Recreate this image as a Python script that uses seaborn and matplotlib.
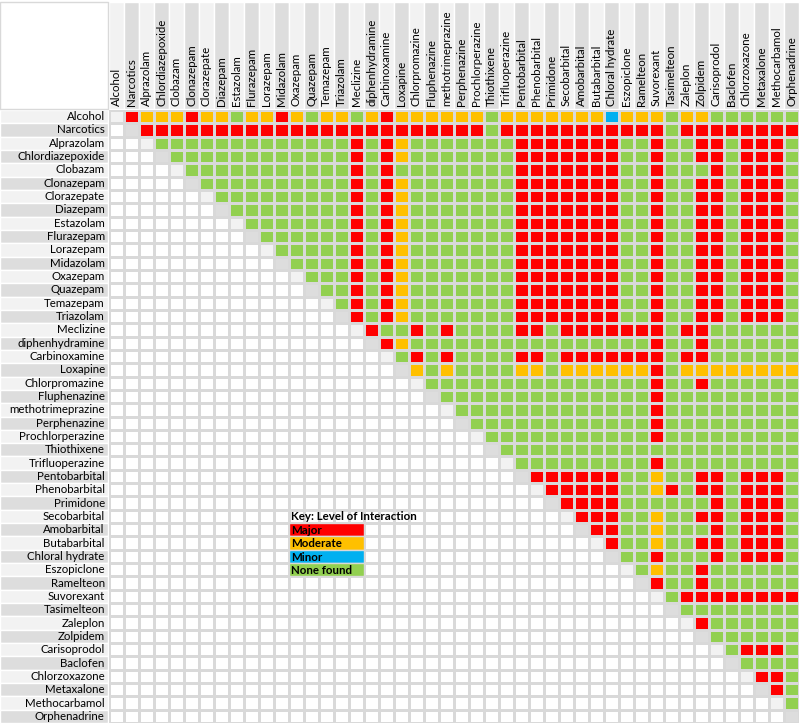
import matplotlib
matplotlib.use("Agg")
import matplotlib.pyplot as plt
from matplotlib.colors import ListedColormap
from matplotlib.patches import Rectangle
import numpy as np
import seaborn as sns

drugs = ["Alcohol", "Narcotics", "Alprazolam", "Chlordiazepoxide", "Clobazam",
         "Clonazepam", "Clorazepate", "Diazepam", "Estazolam", "Flurazepam",
         "Lorazepam", "Midazolam", "Oxazepam", "Quazepam", "Temazepam", "Triazolam",
         "Meclizine", "diphenhydramine", "Carbinoxamine", "Loxapine", "Chlorpromazine",
         "Fluphenazine", "methotrimeprazine", "Perphenazine", "Prochlorperazine",
         "Thiothixene", "Trifluoperazine", "Pentobarbital", "Phenobarbital", "Primidone",
         "Secobarbital", "Amobarbital", "Butabarbital", "Chloral hydrate", "Eszopiclone",
         "Ramelteon", "Suvorexant", "Tasimelteon", "Zaleplon", "Zolpidem", "Carisoprodol",
         "Baclofen", "Chlorzoxazone", "Metaxalone", "Methocarbamol", "Orphenadrine"]

# interaction level for each pair above the diagonal, one string per row
# (columns i+1 .. end): 3 = major, 2 = moderate, 1 = minor, 0 = none found
upper = [
    "322232202232022023222222022222221222022000000",
    "33333333333333333333333033333333333033333333",
    "0000000000000303200000003333333003003303330",
    "000000000000303200000003333333003003303330",
    "00000000000303000000003333333003000303330",
    "0000000000303200000003333333003003303330",
    "000000000303200000003333333003003303330",
    "00000000303200000003333333003003303330",
    "0000000303200000003333333003003303330",
    "000000303200000003333333003003303330",
    "00000303200000003333333003003303330",
    "0000303200000003333333003003303330",
    "000303200000003333333003003303330",
    "00303200000003333333003003303330",
    "0303200000003333333003003303330",
    "303200000003333333003003303330",
    "30030300003303333333033000000",
    "3200000000000000003003000000",
    "030300003303333333033000000",
    "20200002202222223022222222",
    "0000000000000003003000000",
    "000000000000003000000000",
    "00000000000003000000000",
    "0000000000003000000000",
    "000000000003000000000",
    "00000000000000000000",
    "0000000003000000000",
    "333333002003303330",
    "33333002303303330",
    "3333000000303330",
    "333002003303330",
    "33002000303330",
    "3002003303330",
    "003000303330",
    "02003000000",
    "3003000000",
    "033333333",
    "00000000",
    "3000000",
    "000000",
    "03330",
    "0000",
    "330",
    "30",
    "0",
    "",
]

level_colors = ["#92D050", "#00B0F0", "#FFC000", "#FF0000"]
key_labels = ["Major", "Moderate", "Minor", "None found"]
key_levels = [3, 2, 1, 0]

WHITE, DIAG_LIGHT, DIAG_DARK = 4, 5, 6
n = len(drugs)
grid = np.full((n, n), WHITE)
for i, row in enumerate(upper):
    grid[i, i] = DIAG_LIGHT if i % 2 == 0 else DIAG_DARK
    for k, ch in enumerate(row):
        grid[i, i + 1 + k] = int(ch)

cmap = ListedColormap(level_colors + ["#FFFFFF", "#F2F2F2", "#DDDDDD"])

plt.rcParams["font.family"] = ["Lato", "DejaVu Sans"]
fig = plt.figure(figsize=(8, 7.24), dpi=100)
ax = fig.add_axes([109 / 800, 1 / 724, 690 / 800, 613 / 724])
sns.heatmap(grid, cmap=cmap, vmin=-0.5, vmax=6.5, cbar=False,
            linewidths=1, linecolor="#D9D9D9", ax=ax)

# column headers on top
ax.xaxis.tick_top()
ax.set_xticks(np.arange(n) + 0.5)
ax.set_xticklabels(drugs, rotation=90, fontsize=8.3, va="bottom", ha="center")
ax.set_yticks(np.arange(n) + 0.5)
ax.set_yticklabels(drugs, rotation=0, fontsize=8.3, ha="right", va="center")
ax.tick_params(length=0, pad=3)

# header / label background bands
head_h = 108 / (613 / n)
lab_w = 109 / 15
for j in range(n):
    shade = "#F2F2F2" if j % 2 == 0 else "#DDDDDD"
    ax.add_patch(Rectangle((j, -head_h), 1, head_h - 0.1, facecolor=shade,
                           edgecolor="white", lw=1, clip_on=False, zorder=0))
    ax.add_patch(Rectangle((-lab_w, j), lab_w - 0.1, 1, facecolor=shade,
                           edgecolor="white", lw=1, clip_on=False, zorder=0))
ax.add_patch(Rectangle((-lab_w, -head_h), lab_w - 0.1, head_h - 0.1,
                       facecolor="white", edgecolor="#D9D9D9", lw=1, clip_on=False, zorder=0))

# key
ax.text(12.15, 30.5, "Key: Level of Interaction", fontsize=8.3, fontweight="bold",
        ha="left", va="center")
for k, (lab, lvl) in enumerate(zip(key_labels, key_levels)):
    ax.add_patch(Rectangle((12, 31 + k), 5, 1, facecolor=level_colors[lvl],
                           edgecolor="#D9D9D9", lw=1, zorder=3))
    ax.text(12.15, 31.55 + k, lab, fontsize=8.3, fontweight="bold",
            ha="left", va="center", zorder=4)

ax.set_xlabel("")
ax.set_ylabel("")
fig.savefig("out.png", dpi=100)
